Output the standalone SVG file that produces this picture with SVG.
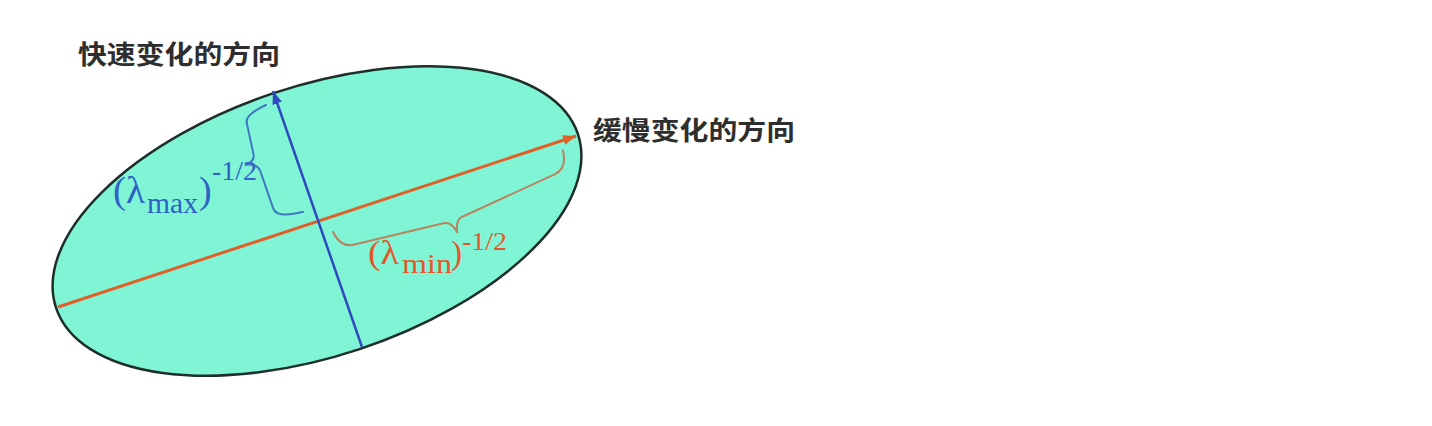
<svg xmlns="http://www.w3.org/2000/svg" width="1432" height="426" viewBox="0 0 1432 426">
<style>
.cjk{font-family:"Noto Sans CJK SC","Noto Sans",sans-serif;font-weight:bold;font-size:26px;fill:#2e2e2e}
.m{font-family:"Liberation Serif",serif}
.blue{fill:#2f62c6}
.org{fill:#e2572b}
.brace{fill:none;stroke-width:2;stroke-linecap:round;stroke-linejoin:round}
</style>
<defs>
<marker id="arrO" markerUnits="userSpaceOnUse" markerWidth="14" markerHeight="10" refX="13" refY="5" orient="auto">
<path d="M0,0 L13,5 L0,10 Z" fill="#e0602a"/>
</marker>
<marker id="arrB" markerUnits="userSpaceOnUse" markerWidth="14" markerHeight="10" refX="13" refY="5" orient="auto">
<path d="M0,0 L13,5 L0,10 Z" fill="#3048c0"/>
</marker>
</defs>
<rect width="1432" height="426" fill="#ffffff"/>
<g id="ellipse">
<ellipse cx="317" cy="221" rx="275" ry="135" transform="rotate(-18.4 317 221)" fill="#80f5d6" stroke="#1e2e2b" stroke-width="2.5"/>
</g>
<g id="connectors">
<line x1="58" y1="307" x2="576" y2="136" stroke="#e0602a" stroke-width="3" marker-end="url(#arrO)"/>
<line x1="362" y1="347" x2="273" y2="91" stroke="#3048c0" stroke-width="2.5" marker-end="url(#arrB)"/>
</g>
<g id="brace-max">
<path class="brace" stroke="#3d78c0" transform="translate(266 105) rotate(70.9)" d="M0,0 Q2,22 10,24 L43,28 Q49,29 50,38 Q52,28 60,27 L100,27 Q111,27 113,0"/>
</g>
<g id="brace-min">
<path class="brace" stroke="#b8845f" transform="translate(333 232) rotate(-19.6)" d="M0,0 Q2,18 16,19 L108,29 Q115,30 117,42 Q119,30 127,29 L228,20 Q242,19 244,0"/>
</g>
<g id="label-fast">
<text class="cjk" x="78" y="64" textLength="202" lengthAdjust="spacingAndGlyphs">快速变化的方向</text>
</g>
<g id="label-slow">
<text class="cjk" x="593" y="140" textLength="202" lengthAdjust="spacingAndGlyphs">缓慢变化的方向</text>
</g>
<g id="label-lmax" class="m blue">
<text x="113" y="203" font-size="38" textLength="32" lengthAdjust="spacingAndGlyphs">(λ</text>
<text x="147" y="213" font-size="30" textLength="51" lengthAdjust="spacingAndGlyphs">max</text>
<text x="199" y="203" font-size="38">)</text>
<text x="212" y="180" font-size="28" textLength="45" lengthAdjust="spacingAndGlyphs">-1/2</text>
</g>
<g id="label-lmin" class="m org">
<text x="368" y="264" font-size="33" textLength="31" lengthAdjust="spacingAndGlyphs">(λ</text>
<text x="402" y="273" font-size="28" textLength="50" lengthAdjust="spacingAndGlyphs">min</text>
<text x="451" y="264" font-size="33">)</text>
<text x="462" y="250" font-size="26" textLength="45" lengthAdjust="spacingAndGlyphs">-1/2</text>
</g>
</svg>
